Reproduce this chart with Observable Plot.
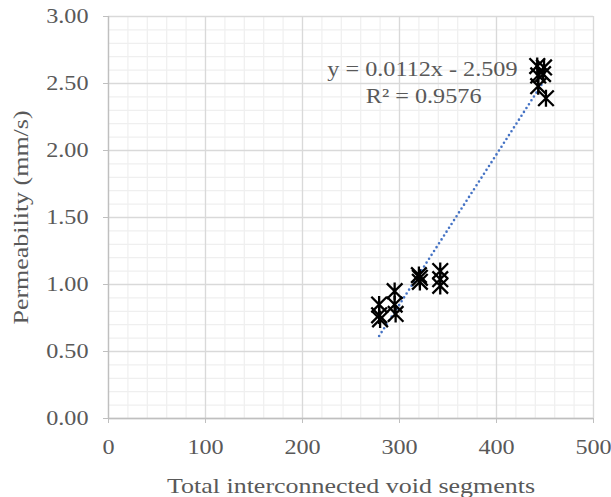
<!DOCTYPE html>
<html>
<head>
<meta charset="utf-8">
<script src="https://cdn.jsdelivr.net/npm/d3@7"></script>
<script src="https://cdn.jsdelivr.net/npm/@observablehq/plot@0.6"></script>
<style>
  html, body { margin: 0; padding: 0; background: #fff; }
  #chart svg { display: block; }
</style>
</head>
<body>
<div id="chart"></div>
<script>
// Data
const segments = [279, 279, 280, 295, 295, 296, 320, 321, 321, 342, 342, 342, 442, 449, 443, 448, 443, 451];
const permeability = [0.85, 0.77, 0.74, 0.95, 0.85, 0.78, 1.07, 1.05, 1.02, 1.10, 1.04, 0.99, 2.63, 2.62, 2.56, 2.57, 2.48, 2.39];
const trendSlope = 0.0112;
const trendIntercept = -2.509;
const trendR2 = 0.9576;
const xTicks = [0, 100, 200, 300, 400, 500];
const yTicks = [0, 0.5, 1.0, 1.5, 2.0, 2.5, 3.0];
const xMinor = d3.range(0, 501, 20);
const yMinor = d3.range(0, 3.001, 0.1);
const xTitle = "Total interconnected void segments";
const yTitle = "Permeability (mm/s)";

const points = segments.map((s, i) => ({x: s, y: permeability[i]}));
const xExt = d3.extent(segments);
const trend = xExt.map(x => ({x, y: trendSlope * x + trendIntercept}));

const star = {
  draw(context, size) {
    const r = Math.sqrt(size) / 2;
    const h = r * 1.1;
    context.moveTo(-r, -r); context.lineTo(r, r);
    context.moveTo(-r, r); context.lineTo(r, -r);
    context.moveTo(0, -h); context.lineTo(0, h);
  }
};

const font = "'Liberation Serif', 'Times New Roman', serif";
const grey = "#595959";

const chart = Plot.plot({
  width: 611,
  height: 497,
  marginLeft: 108,
  marginRight: 18,
  marginTop: 16,
  marginBottom: 79,
  style: {fontFamily: font, background: "#fff"},
  x: {domain: [0, 500]},
  y: {domain: [0, 3]},
  marks: [
    Plot.ruleX(xMinor, {stroke: "#efefef", strokeWidth: 1.2}),
    Plot.ruleY(yMinor, {stroke: "#efefef", strokeWidth: 1.2}),
    Plot.ruleX(xTicks, {stroke: "#d9d9d9", strokeWidth: 1.3}),
    Plot.ruleY(yTicks, {stroke: "#d9d9d9", strokeWidth: 1.3}),
    Plot.ruleX([0], {stroke: "#bfbfbf", strokeWidth: 1.3}),
    Plot.ruleY([0], {stroke: "#bfbfbf", strokeWidth: 1.3}),
    Plot.axisX({ticks: xTicks, tickSize: 5, tickPadding: 16, stroke: "#bfbfbf", color: grey, fontSize: 20.5, label: null, tickFormat: d3.format("d")}),
    Plot.axisY({ticks: yTicks, tickSize: 5, tickPadding: 15, stroke: "#bfbfbf", color: grey, fontSize: 20.5, label: null, tickFormat: d3.format(".2f")}),
    Plot.text([xTitle], {frameAnchor: "bottom", dy: 67, fontSize: 22, fill: grey, textAnchor: "middle", lineAnchor: "middle"}),
    Plot.text([yTitle], {frameAnchor: "left", dx: -88, rotate: -90, fontSize: 22, fill: grey, textAnchor: "middle", lineAnchor: "middle"}),
    Plot.line(trend, {x: "x", y: "y", stroke: "#4472c4", strokeWidth: 2.6, strokeDasharray: "0,4.6", strokeLinecap: "round"}),
    Plot.dot(points, {x: "x", y: "y", symbol: star, r: 8.8, stroke: "#000", strokeWidth: 2.3, fill: "none"}),
    Plot.text([`y = ${trendSlope}x - ${Math.abs(trendIntercept)}`], {frameAnchor: "top-right", dx: -76, dy: 53, textAnchor: "end", lineAnchor: "middle", fontSize: 20.5, fill: grey}),
    Plot.text([`R² = ${trendR2}`], {frameAnchor: "top-right", dx: -112, dy: 80, textAnchor: "end", lineAnchor: "middle", fontSize: 20.5, fill: grey})
  ]
});
document.getElementById("chart").appendChild(chart);

// The reference's serif text is horizontally wider; stretch glyphs to match.
chart.querySelectorAll("text").forEach(t => {
  const w = t.getComputedTextLength();
  if (w > 0) {
    t.setAttribute("textLength", (w * 1.18).toFixed(2));
    t.setAttribute("lengthAdjust", "spacingAndGlyphs");
  }
});
</script>
</body>
</html>
